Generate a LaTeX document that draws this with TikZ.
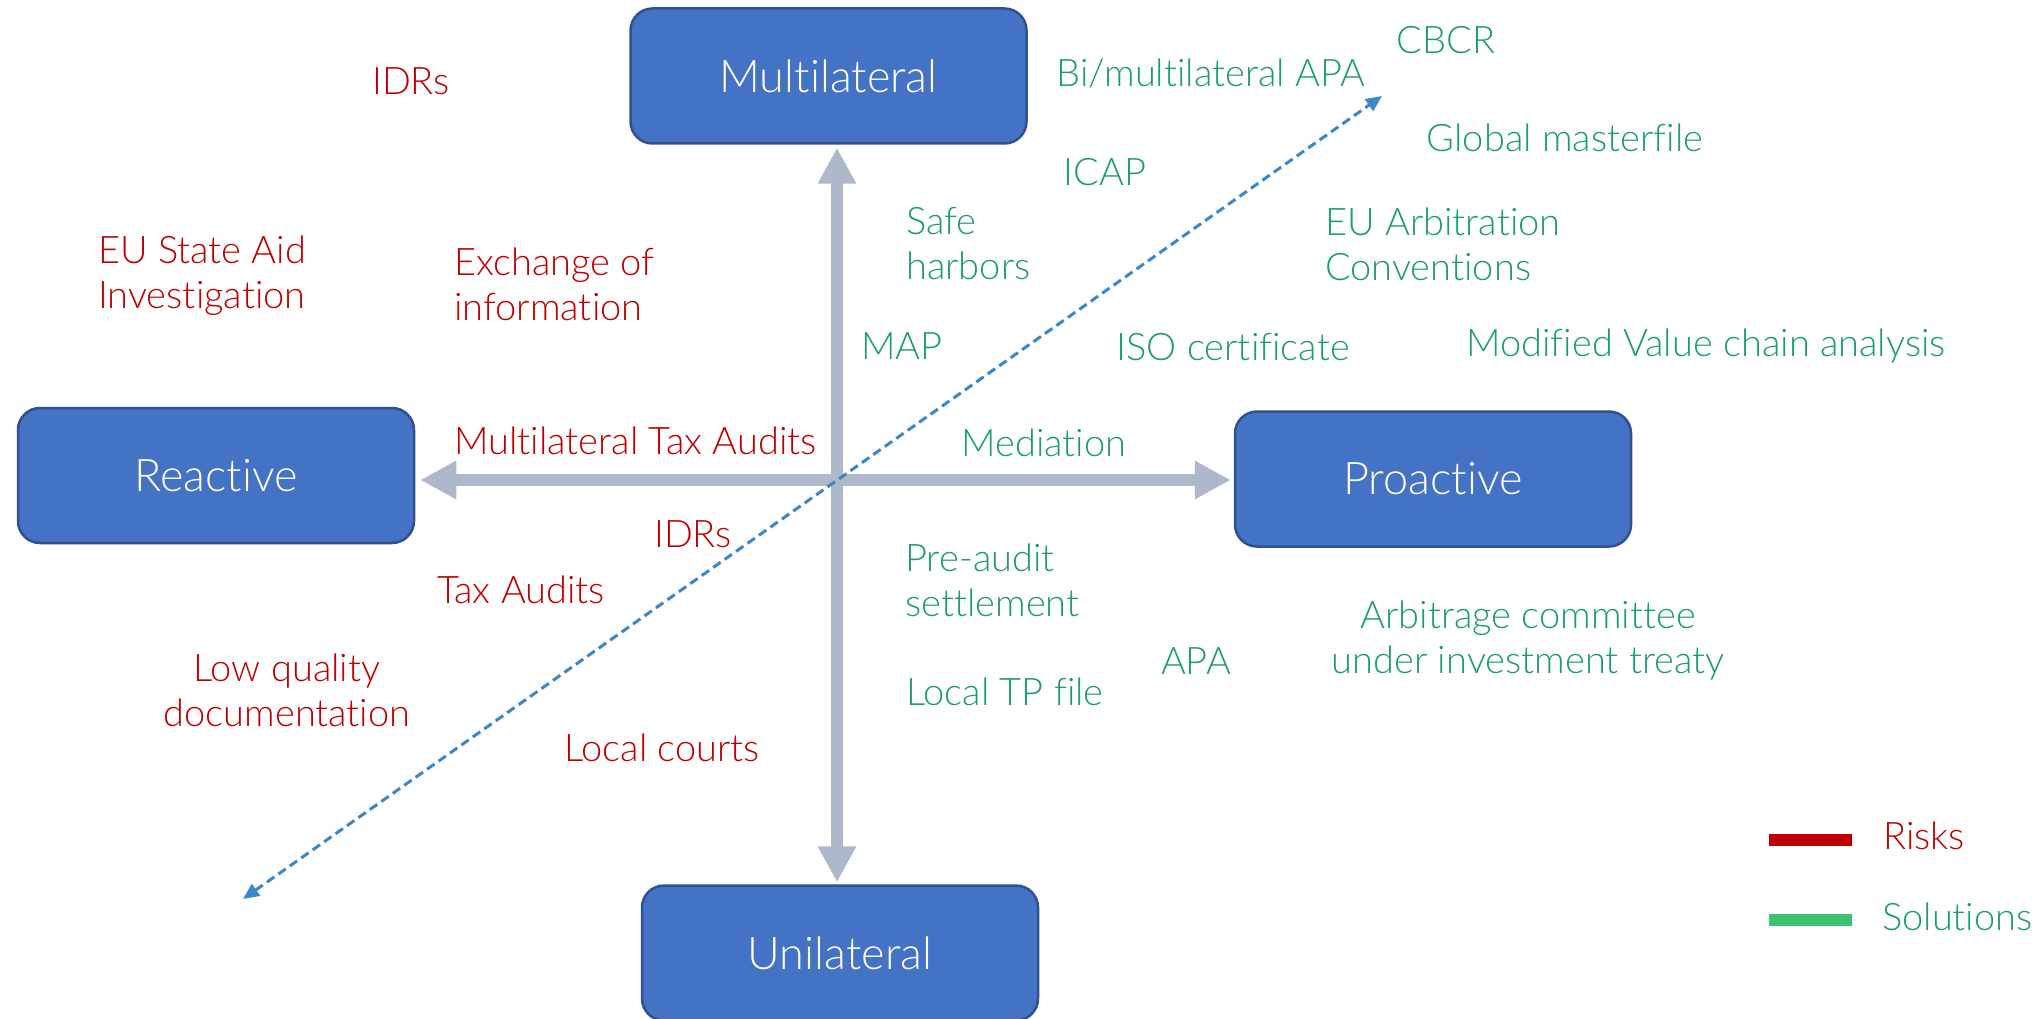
\documentclass[tikz,border=0pt]{standalone}
\usepackage{fontspec}
\IfFontExistsTF{Lato Light}{\setmainfont{Lato Light}[Ligatures={NoCommon}]}{\setmainfont{Liberation Sans}}
\usetikzlibrary{arrows.meta}
\definecolor{boxfill}{HTML}{4472C4}
\definecolor{boxline}{HTML}{2F528F}
\definecolor{axisgrey}{HTML}{ADB9CA}
\definecolor{riskred}{HTML}{C00000}
\definecolor{solgreen}{HTML}{1C9C72}
\definecolor{leggreen}{HTML}{3CC271}
\definecolor{dashblue}{HTML}{3A87C9}
\newcommand{\txtsize}{\fontsize{38}{45}\selectfont}
\newcommand{\boxsize}{\fontsize{45}{50}\selectfont}
\begin{document}
\begin{tikzpicture}[x=1pt,y=-1pt,
  axisbox/.style={draw=boxline, line width=2.5pt, fill=boxfill, rounded corners=22pt,
    minimum width=396pt, minimum height=135pt, inner sep=0pt, text=white, font=\boxsize},
  risk/.style={text=riskred, font=\txtsize, inner sep=0pt},
  sol/.style={text=solgreen, font=\txtsize, inner sep=0pt},
  axisarrow/.style={draw=axisgrey, line width=12pt, -{Triangle[width=36pt,length=36pt]}},
  diag/.style={draw=dashblue, line width=3pt, dash pattern=on 9pt off 5pt,
    {Triangle[width=14pt,length=16pt]}-{Triangle[width=14pt,length=16pt]}},
  legbar/.style={line width=12pt}
]
\useasboundingbox (0,0) rectangle (2039,1019);
\fill[white] (0,0) rectangle (2039,1019);

% boxes
\node[axisbox] (multi) at (828.5,76) {Multilateral};
\node[axisbox] (react) at (216,475.5) {Reactive};
\node[axisbox] (pro) at (1433,479) {Proactive};
\node[axisbox] (uni) at (840,953) {Unilateral};

% axes
\coordinate (c) at (837,480);
\draw[axisarrow, shorten >=3pt] (c) -- (c |- multi.south);
\draw[axisarrow, shorten >=2pt] (c) -- (c |- uni.north);
\draw[axisarrow, shorten >=5pt] (c) -- (c -| react.east);
\draw[axisarrow, shorten >=3pt] (c) -- (c -| pro.west);

% dashed diagonal
\coordinate (dl) at (243,899);
\coordinate (du) at (1382,96);
\draw[diag] (dl) -- (du);

% risks
\node[risk] (r1) at (411,81) {IDRs};
\node[risk, anchor=west, align=left] (r2) at (98,276) {EU State Aid\\Investigation};
\node[risk, anchor=west, align=left] (r3) at (454,284) {Exchange of\\information};
\node[risk, anchor=west] (r4) at (454,441) {Multilateral Tax Audits};
\node[risk] (r5) at (693,534) {IDRs};
\node[risk] (r6) at (521,590) {Tax Audits};
\node[risk, align=center] (r7) at (287,690) {Low quality\\documentation};
\node[risk] (r8) at (662,748) {Local courts};

% solutions
\node[sol] (s1) at (1211,73) {Bi/multilateral APA};
\node[sol] (s2) at (1446,40) {CBCR};
\node[sol] (s3) at (1565,138) {Global masterfile};
\node[sol] (s4) at (1105,172) {ICAP};
\node[sol, anchor=west, align=left] (s5) at (906,244) {Safe\\harbors};
\node[sol, anchor=west, align=left] (s6) at (1325,244) {EU Arbitration\\Conventions};
\node[sol] (s7) at (902,346) {MAP};
\node[sol] (s8) at (1233,347) {ISO certificate};
\node[sol] (s9) at (1706,346) {Modified Value chain analysis};
\node[sol] (s10) at (1044,443) {Mediation};
\node[sol, anchor=west, align=left] (s11) at (905,580) {Pre-audit\\settlement};
\node[sol] (s12) at (1196,661) {APA};
\node[sol, align=center] (s13) at (1528,641) {Arbitrage committee\\under investment treaty};
\node[sol] (s14) at (1005,692) {Local TP file};

% legend
\coordinate (lr1) at (1769,840);
\coordinate (lr2) at (1852,840);
\coordinate (lg1) at (1769,920);
\coordinate (lg2) at (1852,920);
\draw[legbar, riskred] (lr1) -- (lr2);
\draw[legbar, leggreen] (lg1) -- (lg2);
\node[risk, anchor=west] (lrisk) at (1883,836) {Risks};
\node[sol, anchor=west] (lsol) at (1882,917) {Solutions};
\end{tikzpicture}
\end{document}
